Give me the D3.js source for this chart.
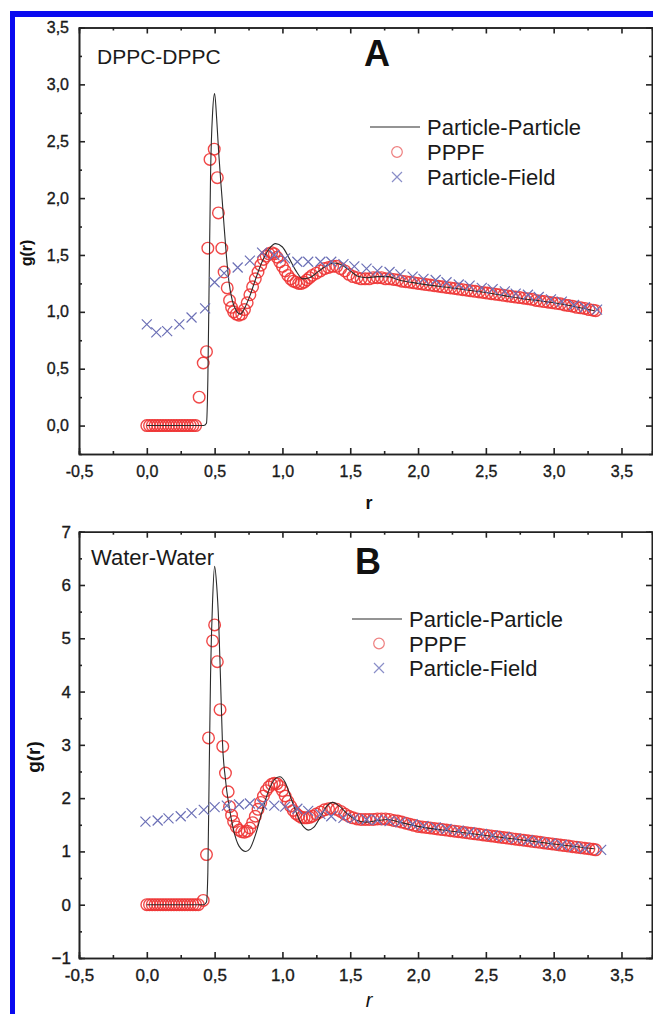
<!DOCTYPE html>
<html>
<head>
<meta charset="utf-8">
<script src="https://cdn.jsdelivr.net/npm/d3@7"></script>
<style>
  html, body { margin: 0; padding: 0; background: #fff; }
</style>
</head>
<body>
<div id="container"></div>
<script>
const width = 653;
const height = 1014;

// ---- data ----
const xMajorTicks = [-0.5, 0, 0.5, 1, 1.5, 2, 2.5, 3, 3.5];
const xMinorTicks = [-0.25, 0.25, 0.75, 1.25, 1.75, 2.25, 2.75, 3.25];

const yMajorA = [0, 0.5, 1, 1.5, 2, 2.5, 3, 3.5];
const yMinorA = [0.25, 0.75, 1.25, 1.75, 2.25, 2.75, 3.25];
const yMajorB = [-1, 0, 1, 2, 3, 4, 5, 6, 7];
const yMinorB = [-0.5, 0.5, 1.5, 2.5, 3.5, 4.5, 5.5, 6.5];

const legendLabels = ["Particle-Particle", "PPPF", "Particle-Field"];

// DPPC-DPPC
const ppA = [
    [0, 0], [0.42, 0], [0.44, 0.02], [0.45, 0.4], [0.46, 1.3], [0.47, 2.2], [0.485, 2.75], [0.5, 2.92],
    [0.515, 2.7], [0.53, 2.4], [0.545, 2.15], [0.556, 1.98], [0.57, 1.75], [0.585, 1.52], [0.605, 1.27],
    [0.63, 1.1], [0.66, 1.01], [0.69, 0.98], [0.72, 1.03], [0.76, 1.14], [0.8, 1.28], [0.85, 1.44],
    [0.9, 1.55], [0.95, 1.6], [1.0, 1.57], [1.05, 1.47], [1.1, 1.36], [1.15, 1.29], [1.2, 1.3],
    [1.27, 1.36], [1.33, 1.41], [1.38, 1.43], [1.44, 1.41], [1.5, 1.36], [1.56, 1.31], [1.62, 1.3],
    [1.7, 1.31], [1.78, 1.31], [1.86, 1.28], [2.0, 1.25], [2.25, 1.21], [2.5, 1.17], [2.75, 1.12],
    [3.0, 1.08], [3.3, 1.01]
];
const pppfA = [
    [0, 0], [0.02, 0], [0.04, 0], [0.06, 0], [0.08, 0], [0.1, 0], [0.12, 0], [0.14, 0], [0.16, 0], [0.18, 0],
    [0.2, 0], [0.22, 0], [0.24, 0], [0.26, 0], [0.28, 0], [0.3, 0], [0.32, 0], [0.34, 0], [0.36, 0],
    [0.386, 0.25], [0.416, 0.55], [0.44, 0.65], [0.45, 1.56], [0.466, 2.34], [0.497, 2.43], [0.52, 2.18],
    [0.528, 1.87], [0.553, 1.56], [0.57, 1.35], [0.593, 1.21], [0.61, 1.1], [0.625, 1.04], [0.64, 1.0],
    [0.66, 0.98], [0.68, 0.97], [0.7, 0.98], [0.72, 1.02], [0.74, 1.08], [0.76, 1.15], [0.78, 1.22],
    [0.8, 1.29], [0.82, 1.35], [0.84, 1.41], [0.86, 1.46], [0.88, 1.49], [0.9, 1.51], [0.92, 1.52],
    [0.94, 1.51], [0.96, 1.48], [0.98, 1.44], [1.0, 1.4], [1.02, 1.36], [1.04, 1.32], [1.06, 1.29],
    [1.08, 1.27], [1.1, 1.26], [1.12, 1.25], [1.14, 1.25], [1.16, 1.26], [1.18, 1.28], [1.2, 1.3],
    [1.22, 1.32], [1.25, 1.34], [1.28, 1.36], [1.31, 1.38], [1.34, 1.39], [1.37, 1.4], [1.4, 1.4],
    [1.43, 1.38], [1.46, 1.36], [1.49, 1.33], [1.52, 1.31], [1.55, 1.3], [1.58, 1.29], [1.61, 1.29],
    [1.64, 1.29], [1.67, 1.3], [1.7, 1.3], [1.73, 1.3], [1.76, 1.29], [1.79, 1.29], [1.82, 1.285],
    [1.85, 1.28], [1.88, 1.27], [1.91, 1.265], [1.94, 1.26], [1.97, 1.255], [2.0, 1.25], [2.03, 1.245],
    [2.06, 1.24], [2.09, 1.235], [2.12, 1.23], [2.15, 1.225], [2.18, 1.22], [2.21, 1.215], [2.24, 1.21],
    [2.27, 1.205], [2.3, 1.2], [2.33, 1.195], [2.36, 1.19], [2.39, 1.185], [2.42, 1.18], [2.45, 1.175],
    [2.48, 1.17], [2.51, 1.165], [2.54, 1.16], [2.57, 1.155], [2.6, 1.15], [2.63, 1.145], [2.66, 1.14],
    [2.69, 1.135], [2.72, 1.13], [2.75, 1.125], [2.78, 1.12], [2.81, 1.115], [2.84, 1.11], [2.87, 1.1],
    [2.9, 1.095], [2.93, 1.09], [2.96, 1.085], [2.99, 1.08], [3.02, 1.075], [3.05, 1.07], [3.08, 1.06],
    [3.11, 1.055], [3.14, 1.05], [3.17, 1.04], [3.2, 1.035], [3.23, 1.03], [3.26, 1.02], [3.29, 1.015],
    [3.31, 1.01]
];
const pfA = [
    [0, 0.89], [0.07, 0.82], [0.15, 0.83], [0.24, 0.89], [0.33, 0.95], [0.43, 1.03], [0.5, 1.26],
    [0.57, 1.34], [0.67, 1.39], [0.76, 1.45], [0.85, 1.52], [0.94, 1.5], [1.02, 1.47], [1.11, 1.44],
    [1.19, 1.44], [1.28, 1.44], [1.36, 1.44], [1.45, 1.42], [1.53, 1.4], [1.62, 1.38], [1.7, 1.36],
    [1.79, 1.35], [1.87, 1.33], [1.96, 1.31], [2.04, 1.29], [2.13, 1.28], [2.21, 1.26], [2.3, 1.24],
    [2.38, 1.23], [2.47, 1.21], [2.55, 1.2], [2.64, 1.18], [2.72, 1.16], [2.81, 1.15], [2.89, 1.13],
    [2.98, 1.11], [3.06, 1.09], [3.15, 1.06], [3.23, 1.04], [3.32, 1.02]
];

// Water-Water
const ppB = [
    [0, 0], [0.42, 0], [0.44, 0.05], [0.45, 0.6], [0.46, 2.5], [0.47, 4.3], [0.485, 5.7], [0.5, 6.35],
    [0.515, 6.0], [0.53, 5.3], [0.545, 4.1], [0.557, 3.1], [0.58, 2.35], [0.607, 1.84], [0.64, 1.4],
    [0.68, 1.1], [0.73, 1.0], [0.76, 1.05], [0.8, 1.3], [0.85, 1.75], [0.9, 2.15], [0.95, 2.37],
    [0.98, 2.4], [1.02, 2.3], [1.07, 1.95], [1.12, 1.62], [1.16, 1.45], [1.19, 1.4], [1.23, 1.45],
    [1.28, 1.65], [1.33, 1.86], [1.37, 1.92], [1.42, 1.85], [1.48, 1.7], [1.55, 1.58], [1.62, 1.55],
    [1.7, 1.58], [1.78, 1.6], [1.86, 1.55], [2.0, 1.47], [2.25, 1.38], [2.5, 1.3], [2.75, 1.22],
    [3.0, 1.14], [3.3, 1.05]
];
const pppfB = [
    [0, 0], [0.02, 0], [0.04, 0], [0.06, 0], [0.08, 0], [0.1, 0], [0.12, 0], [0.14, 0], [0.16, 0], [0.18, 0],
    [0.2, 0], [0.22, 0], [0.24, 0], [0.26, 0], [0.28, 0], [0.3, 0], [0.32, 0], [0.34, 0], [0.36, 0], [0.38, 0],
    [0.416, 0.08], [0.44, 0.94], [0.455, 3.13], [0.485, 4.95], [0.5, 5.25], [0.52, 4.56], [0.54, 3.66],
    [0.56, 2.97], [0.58, 2.47], [0.6, 2.12], [0.61, 1.84], [0.625, 1.68], [0.64, 1.56], [0.66, 1.46],
    [0.68, 1.4], [0.7, 1.37], [0.72, 1.36], [0.74, 1.38], [0.76, 1.44], [0.78, 1.54], [0.8, 1.66],
    [0.82, 1.79], [0.84, 1.92], [0.86, 2.04], [0.88, 2.14], [0.9, 2.21], [0.92, 2.26], [0.94, 2.28],
    [0.96, 2.27], [0.98, 2.22], [1.0, 2.14], [1.02, 2.04], [1.04, 1.94], [1.06, 1.85], [1.08, 1.77],
    [1.1, 1.71], [1.12, 1.67], [1.14, 1.64], [1.16, 1.63], [1.18, 1.63], [1.2, 1.64], [1.22, 1.66],
    [1.25, 1.7], [1.28, 1.74], [1.31, 1.78], [1.34, 1.8], [1.37, 1.81], [1.4, 1.79], [1.43, 1.75],
    [1.46, 1.7], [1.49, 1.66], [1.52, 1.63], [1.55, 1.61], [1.58, 1.6], [1.61, 1.6], [1.64, 1.6],
    [1.67, 1.6], [1.7, 1.61], [1.73, 1.61], [1.76, 1.61], [1.79, 1.6], [1.82, 1.58], [1.85, 1.57],
    [1.88, 1.55], [1.91, 1.53], [1.94, 1.51], [1.97, 1.49], [2.0, 1.47], [2.03, 1.46], [2.06, 1.45],
    [2.09, 1.44], [2.12, 1.43], [2.15, 1.42], [2.18, 1.41], [2.21, 1.4], [2.24, 1.39], [2.27, 1.38],
    [2.3, 1.37], [2.33, 1.36], [2.36, 1.35], [2.39, 1.34], [2.42, 1.33], [2.45, 1.32], [2.48, 1.31],
    [2.51, 1.3], [2.54, 1.29], [2.57, 1.28], [2.6, 1.27], [2.63, 1.26], [2.66, 1.25], [2.69, 1.24],
    [2.72, 1.23], [2.75, 1.22], [2.78, 1.21], [2.81, 1.2], [2.84, 1.19], [2.87, 1.18], [2.9, 1.17],
    [2.93, 1.16], [2.96, 1.15], [2.99, 1.14], [3.02, 1.13], [3.05, 1.12], [3.08, 1.11], [3.11, 1.1],
    [3.14, 1.09], [3.17, 1.08], [3.2, 1.07], [3.23, 1.06], [3.26, 1.05], [3.29, 1.04], [3.31, 1.03]
];
const pfB = [
    [-0.01, 1.56], [0.08, 1.58], [0.16, 1.62], [0.25, 1.66], [0.33, 1.72], [0.42, 1.78], [0.5, 1.83],
    [0.59, 1.86], [0.68, 1.88], [0.76, 1.9], [0.85, 1.88], [0.94, 1.86], [1.02, 1.84], [1.11, 1.8],
    [1.19, 1.76], [1.28, 1.7], [1.36, 1.66], [1.45, 1.63], [1.53, 1.62], [1.62, 1.6], [1.7, 1.59],
    [1.79, 1.57], [1.87, 1.55], [1.96, 1.51], [2.04, 1.48], [2.13, 1.45], [2.21, 1.42], [2.3, 1.39],
    [2.38, 1.36], [2.47, 1.33], [2.55, 1.3], [2.64, 1.27], [2.72, 1.24], [2.81, 1.21], [2.89, 1.18],
    [2.98, 1.15], [3.06, 1.12], [3.15, 1.09], [3.23, 1.06], [3.35, 1.03]
];

// ---- drawing ----
const font = "'Liberation Sans', Arial, sans-serif";
const red = "#ee3434";
const blue = "#6c70b6";
const axisColor = "#222";
const comma = f => v => f(v).replace(".", ",").replace("\u2212", "-");

const svg = d3.create("svg")
    .attr("width", width)
    .attr("height", height)
    .style("display", "block")
    .style("background", "#fff");

const x = d3.scaleLinear().domain([-0.5, 3.725]).range([79, 652]);

const drawPanel = (cfg) => {
    const y = d3.scaleLinear().domain(cfg.yDomain).range(cfg.yRange);
    const g = svg.append("g");
    const [bottom, top] = cfg.yRange;
    const [left, right] = x.range();

    const styleAxis = (sel, fs) => {
        sel.selectAll("path, line").attr("stroke", axisColor).attr("stroke-width", 1.6);
        sel.selectAll("text")
            .attr("font-family", font).attr("font-size", fs).attr("fill", "#1a1a1a")
            .attr("stroke", "#1a1a1a").attr("stroke-width", 0.35);
    };

    // minor ticks
    g.append("g").attr("transform", `translate(0,${bottom})`)
        .call(d3.axisBottom(x).tickValues(xMinorTicks).tickSize(-3).tickFormat(""))
        .call(s => styleAxis(s, 0));
    g.append("g").attr("transform", `translate(0,${top})`)
        .call(d3.axisTop(x).tickValues(xMinorTicks).tickSize(-3).tickFormat(""))
        .call(s => styleAxis(s, 0));
    g.append("g").attr("transform", `translate(${left},0)`)
        .call(d3.axisLeft(y).tickValues(cfg.yMinor).tickSize(-3).tickFormat(""))
        .call(s => styleAxis(s, 0));
    g.append("g").attr("transform", `translate(${right},0)`)
        .call(d3.axisRight(y).tickValues(cfg.yMinor).tickSize(-3).tickFormat(""))
        .call(s => styleAxis(s, 0));

    // major ticks with labels
    g.append("g").attr("transform", `translate(0,${bottom})`)
        .call(d3.axisBottom(x).tickValues(xMajorTicks).tickSizeInner(-6).tickSizeOuter(0)
            .tickPadding(cfg.xPad).tickFormat(comma(d3.format(".1f"))))
        .call(s => styleAxis(s, cfg.tickFont));
    g.append("g").attr("transform", `translate(0,${top})`)
        .call(d3.axisTop(x).tickValues(xMajorTicks).tickSizeInner(-6).tickSizeOuter(0).tickFormat(""))
        .call(s => styleAxis(s, cfg.tickFont));
    g.append("g").attr("transform", `translate(${left},0)`)
        .call(d3.axisLeft(y).tickValues(cfg.yMajor).tickSizeInner(-6).tickSizeOuter(0)
            .tickPadding(cfg.yPad).tickFormat(cfg.yFormat))
        .call(s => styleAxis(s, cfg.tickFont));
    g.append("g").attr("transform", `translate(${right},0)`)
        .call(d3.axisRight(y).tickValues(cfg.yMajor).tickSizeInner(-6).tickSizeOuter(0).tickFormat(""))
        .call(s => styleAxis(s, cfg.tickFont));

    // PPPF circles
    g.append("g").selectAll("circle")
        .data(cfg.pppf)
        .join("circle")
        .attr("cx", d => x(d[0]))
        .attr("cy", d => y(d[1]))
        .attr("r", 5.8)
        .attr("fill", "none")
        .attr("stroke", red)
        .attr("stroke-opacity", 0.9)
        .attr("stroke-width", 1.4);

    // Particle-Particle line
    const line = d3.line().x(d => x(d[0])).y(d => y(d[1])).curve(d3.curveMonotoneX);
    g.append("path")
        .datum(cfg.pp)
        .attr("d", line)
        .attr("fill", "none")
        .attr("stroke", "#2b2b2b")
        .attr("stroke-width", 1.1);

    // Particle-Field crosses
    const cross = (sel, s) => sel.attr("d", `M${-s},${-s}L${s},${s}M${-s},${s}L${s},${-s}`);
    g.append("g").selectAll("path")
        .data(cfg.pf)
        .join("path")
        .attr("transform", d => `translate(${x(d[0])},${y(d[1])})`)
        .call(cross, 5)
        .attr("fill", "none")
        .attr("stroke", blue)
        .attr("stroke-width", 1.2);

    // legend
    const lg = g.append("g").attr("transform", `translate(${cfg.legend[0]},${cfg.legend[1]})`);
    lg.append("line").attr("x1", 0).attr("x2", 50).attr("y1", 0).attr("y2", 0)
        .attr("stroke", "#2b2b2b").attr("stroke-width", 1.1);
    lg.append("circle").attr("cx", 27).attr("cy", cfg.legendGap).attr("r", 5.3)
        .attr("fill", "none").attr("stroke", "#ee7f7f").attr("stroke-width", 1.2);
    lg.append("path").attr("transform", `translate(27,${2 * cfg.legendGap})`).call(cross, 5)
        .attr("fill", "none").attr("stroke", "#8a8ec8").attr("stroke-width", 1.2);
    lg.selectAll("text")
        .data(legendLabels)
        .join("text")
        .attr("x", 57)
        .attr("y", (_, i) => i * cfg.legendGap + 8)
        .attr("font-family", font)
        .attr("font-size", 22)
        .attr("fill", "#1a1a1a")
        .text(d => d);

    // labels
    g.append("text")
        .attr("x", cfg.name[0]).attr("y", cfg.name[1])
        .attr("font-family", font).attr("font-size", cfg.nameFont).attr("fill", "#1a1a1a")
        .text(cfg.title);
    g.append("text")
        .attr("x", cfg.letter[0]).attr("y", cfg.letter[1])
        .attr("text-anchor", "middle")
        .attr("font-family", font).attr("font-size", 36).attr("font-weight", "bold").attr("fill", "#111")
        .text(cfg.letterText);
    g.append("text")
        .attr("transform", `translate(${cfg.ylab[0]},${cfg.ylab[1]}) rotate(-90)`)
        .attr("text-anchor", "middle")
        .attr("dominant-baseline", "middle")
        .attr("font-family", font).attr("font-size", cfg.ylabFont).attr("font-weight", "bold").attr("fill", "#111")
        .text("g(r)");
    g.append("text")
        .attr("x", cfg.xlab[0]).attr("y", cfg.xlab[1])
        .attr("text-anchor", "middle")
        .attr("font-family", font).attr("font-size", cfg.xlabFont)
        .attr("font-weight", cfg.xlabItalic ? "normal" : "bold")
        .attr("font-style", cfg.xlabItalic ? "italic" : "normal")
        .attr("fill", "#111")
        .text("r");
};

drawPanel({
    yDomain: [-0.25, 3.5], yRange: [454, 27.5],
    yMajor: yMajorA, yMinor: yMinorA, yFormat: comma(d3.format(".1f")),
    tickFont: 16, xPad: 12, yPad: 10,
    pp: ppA, pppf: pppfA, pf: pfA,
    legend: [370, 127], legendGap: 25,
    title: "DPPC-DPPC", name: [97, 64], nameFont: 21,
    letterText: "A", letter: [377, 66],
    ylab: [28, 253], ylabFont: 16,
    xlab: [369, 509], xlabFont: 18, xlabItalic: false
});

drawPanel({
    yDomain: [-1, 7], yRange: [958, 531.7],
    yMajor: yMajorB, yMinor: yMinorB, yFormat: d3.format("d"),
    tickFont: 17, xPad: 11, yPad: 8,
    pp: ppB, pppf: pppfB, pf: pfB,
    legend: [352, 619], legendGap: 24.5,
    title: "Water-Water", name: [91, 565], nameFont: 22,
    letterText: "B", letter: [368, 574],
    ylab: [35, 757], ylabFont: 19,
    xlab: [369, 1007], xlabFont: 20, xlabItalic: true
});

// blue frame (left and top edges visible)
svg.append("rect").attr("x", 10).attr("y", 11).attr("width", width).attr("height", 6).attr("fill", "#0a0af0");
svg.append("rect").attr("x", 10).attr("y", 11).attr("width", 5).attr("height", height).attr("fill", "#0a0af0");

d3.select("#container").append(() => svg.node());
</script>
</body>
</html>
